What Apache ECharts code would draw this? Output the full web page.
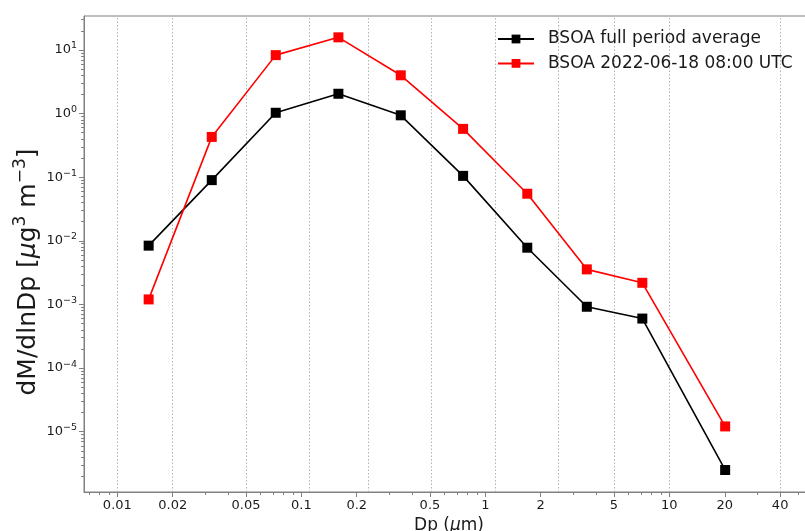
<!DOCTYPE html>
<html>
<head>
<meta charset="utf-8">
<script src="https://cdn.jsdelivr.net/npm/echarts@6/dist/echarts.min.js"></script>
<style>html,body{margin:0;padding:0;background:#fff;}#c{width:805px;height:531px;}</style>
</head>
<body>
<div id="c"></div>
<script>
// ---- data ----
const diameters = [0.0148, 0.0326, 0.0726, 0.159, 0.347, 0.757, 1.69, 3.56, 7.13, 20.1];
const avgValues = [8.4e-3, 0.090, 1.03, 2.05, 0.94, 0.105, 7.8e-3, 9.2e-4, 6.0e-4, 2.5e-6];
const eventValues = [1.2e-3, 0.43, 8.3, 15.8, 4.0, 0.575, 0.055, 3.56e-3, 2.19e-3, 1.21e-5];
const seriesNames = ['BSOA full period average', 'BSOA 2022-06-18 08:00 UTC'];
const binEdges = [0.01, 0.0217, 0.0482, 0.106, 0.233, 0.513, 1.13, 2.48, 5, 10, 40];
const xTickValues = [0.01, 0.02, 0.05, 0.1, 0.2, 0.5, 1, 2, 5, 10, 20, 40];
const xTickLabels = ['0.01', '0.02', '0.05', '0.1', '0.2', '0.5', '1', '2', '5', '10', '20', '40'];
const yTickValues = [1e-5, 1e-4, 1e-3, 1e-2, 1e-1, 1, 10];
const yTickExponents = ['−5', '−4', '−3', '−2', '−1', '0', '1'];

const X_MIN = 0.00659, X_MAX = 61.1;
const Y_MIN = 1.127e-6, Y_MAX = 34.2;

function minorTicks(lo, hi) {
  const out = [];
  for (let e = -7; e <= 3; e++) {
    for (let m = 2; m <= 9; m++) {
      const v = m * Math.pow(10, e);
      if (v > lo && v < hi) out.push(v);
    }
  }
  return out;
}

function nearestIndex(arr, v) {
  let best = 0, bd = Infinity;
  arr.forEach((a, i) => { const d = Math.abs(Math.log10(a) - Math.log10(v)); if (d < bd) { bd = d; best = i; } });
  return best;
}

const axisGrey = '#808080';
const textColor = '#1a1a1a';
const FONT = 'DejaVu Sans';

const chart = echarts.init(document.getElementById('c'), null, { renderer: 'canvas' });

const option = {
  animation: false,
  backgroundColor: '#ffffff',
  textStyle: { fontFamily: FONT },
  grid: { left: 84, top: 16, width: 730, height: 476, show: true, borderColor: axisGrey, borderWidth: 1, containLabel: false, outerBoundsMode: 'none' },
  legend: {
    orient: 'vertical', left: 497, top: 29, padding: 0, itemWidth: 36, itemHeight: 11, itemGap: 4.4,
    data: seriesNames,
    textStyle: { fontFamily: FONT, fontSize: 17, color: textColor, lineHeight: 20, padding: [0, 0, 0, 9] }
  },
  xAxis: [
    {
      type: 'log', logBase: 10, min: X_MIN, max: X_MAX, position: 'bottom',
      axisLine: { show: true, onZero: false, lineStyle: { color: axisGrey, width: 1 } },
      axisTick: { show: true, length: 5, lineStyle: { color: axisGrey }, customValues: xTickValues },
      axisLabel: {
        show: true, customValues: xTickValues, margin: 7,
        fontFamily: FONT, fontSize: 13, color: textColor,
        formatter: v => xTickLabels[nearestIndex(xTickValues, v)]
      },
      splitLine: { show: false }, minorTick: { show: false }, minorSplitLine: { show: false },
      name: 'Dp ({i|μ}m)', nameLocation: 'middle', nameGap: 23,
      nameTextStyle: { fontFamily: FONT, fontSize: 17, color: textColor, rich: { i: { fontFamily: FONT, fontSize: 17, fontStyle: 'italic', color: textColor } } }
    },
    {
      type: 'log', logBase: 10, min: X_MIN, max: X_MAX, position: 'bottom',
      axisLine: { show: false },
      axisTick: { show: true, length: 3, lineStyle: { color: axisGrey }, customValues: minorTicks(X_MIN, X_MAX) },
      axisLabel: { show: false }, splitLine: { show: false }
    }
  ],
  yAxis: [
    {
      type: 'log', logBase: 10, min: Y_MIN, max: Y_MAX, position: 'left',
      axisLine: { show: true, onZero: false, lineStyle: { color: axisGrey, width: 1 } },
      axisTick: { show: true, length: 5, lineStyle: { color: axisGrey }, customValues: yTickValues },
      axisLabel: {
        show: true, customValues: yTickValues, margin: 7, color: textColor,
        formatter: v => '{b|10}{s|' + yTickExponents[nearestIndex(yTickValues, v)] + '}',
        rich: {
          b: { fontFamily: FONT, fontSize: 13, color: textColor, lineHeight: 18 },
          s: { fontFamily: FONT, fontSize: 9.5, color: textColor, lineHeight: 10, verticalAlign: 'top' }
        }
      },
      splitLine: { show: false }
    },
    {
      type: 'log', logBase: 10, min: Y_MIN, max: Y_MAX, position: 'left',
      axisLine: { show: false },
      axisTick: { show: true, length: 3, lineStyle: { color: axisGrey }, customValues: minorTicks(Y_MIN, Y_MAX) },
      axisLabel: { show: false }, splitLine: { show: false }
    }
  ],
  graphic: [
    {
      type: 'text', x: 28, y: 272, rotation: Math.PI / 2, silent: true,
      style: {
        text: 'dM/dlnDp [{i|μ}g{s|3} m{s|−3}]',
        fontFamily: FONT, fontSize: 25, fill: textColor, align: 'center', verticalAlign: 'middle',
        rich: {
          i: { fontFamily: FONT, fontSize: 25, fontStyle: 'italic', fill: textColor, lineHeight: 31 },
          s: { fontFamily: FONT, fontSize: 17, fill: textColor, lineHeight: 16, verticalAlign: 'top' }
        }
      }
    }
  ],
  series: [
    {
      name: 'gridlines', type: 'line', data: [], z: 1, silent: true,
      markLine: {
        silent: true, z: 1, symbol: ['none', 'none'], label: { show: false }, animation: false,
        lineStyle: { color: '#b3b3b3', width: 1, type: [1.5, 2] },
        data: binEdges.map(v => ({ xAxis: v }))
      }
    },
    {
      name: seriesNames[0], type: 'line', z: 3,
      data: diameters.map((d, i) => [d, avgValues[i]]),
      symbol: 'rect', symbolSize: 10,
      lineStyle: { color: '#000000', width: 1.6 },
      itemStyle: { color: '#000000' }
    },
    {
      name: seriesNames[1], type: 'line', z: 4,
      data: diameters.map((d, i) => [d, eventValues[i]]),
      symbol: 'rect', symbolSize: 10,
      lineStyle: { color: '#ff0000', width: 1.6 },
      itemStyle: { color: '#ff0000' }
    }
  ]
};
chart.setOption(option);
</script>
</body>
</html>
